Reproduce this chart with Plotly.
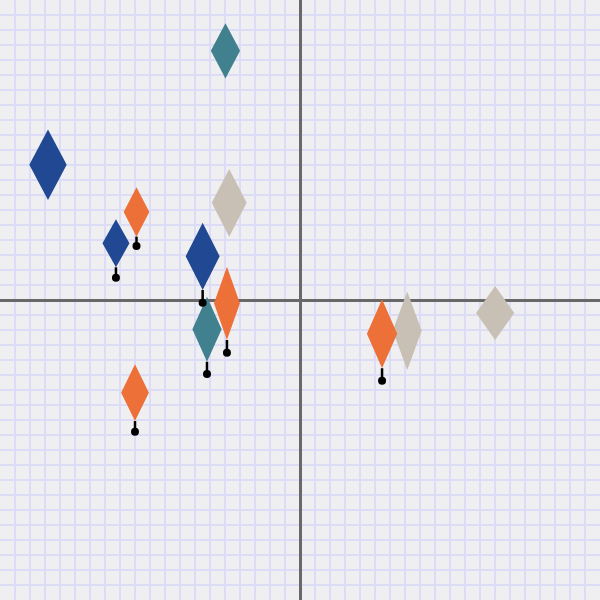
import plotly.graph_objects as go

# diamond centres, widths and heights in axis units
diamond_x = [-4.97, -16.8, -10.9, -4.72, -12.27, -6.49, -4.87, -6.2, -11.0, 5.47, 7.15, 13.01]
diamond_y = [16.61, 9.02, 5.87, 6.48, 3.78, 2.91, -0.22, -1.95, -6.18, -2.25, -2.05, -0.87]
diamond_w = [1.95, 2.49, 1.71, 2.33, 1.8, 2.27, 1.73, 1.95, 1.85, 2.02, 1.93, 2.55]
diamond_h = [3.67, 4.71, 3.29, 4.51, 3.2, 4.49, 4.89, 4.33, 3.78, 4.6, 5.22, 3.6]
group = ['teal', 'blue', 'orange', 'beige', 'blue', 'blue', 'orange', 'teal',
         'orange', 'orange', 'beige', 'beige']
# anchor dot below some diamonds (None = no dot)
dot_y = [None, None, 3.6, None, 1.49, -0.18, -3.51, -4.93, -8.78, -5.38, None, None]

colors = {'beige': '#C8C0B4', 'blue': '#204893', 'teal': '#40808F', 'orange': '#EC7038'}

fig = go.Figure()

for g in ['beige', 'blue', 'teal', 'orange']:
    xs, ys = [], []
    for i in range(len(diamond_x)):
        if group[i] != g:
            continue
        cx, cy = diamond_x[i], diamond_y[i]
        hw, hh = diamond_w[i] / 2, diamond_h[i] / 2
        xs += [cx, cx + hw, cx, cx - hw, cx, None]
        ys += [cy + hh, cy, cy - hh, cy, cy + hh, None]
    fig.add_trace(go.Scatter(x=xs, y=ys, mode='lines', fill='toself',
                             fillcolor=colors[g], line=dict(width=0, color=colors[g]),
                             hoverinfo='skip', name=g))

# stems and dots
sx, sy, stem = [], [], []
for i in range(len(diamond_x)):
    if dot_y[i] is None:
        continue
    sx.append(diamond_x[i])
    sy.append(dot_y[i])
    stem.append(diamond_y[i] - diamond_h[i] / 2 - dot_y[i])

fig.add_trace(go.Scatter(x=sx, y=sy, mode='markers',
                         marker=dict(size=8, color='black'),
                         error_y=dict(type='data', symmetric=False, array=stem,
                                      arrayminus=[0] * len(stem), width=0,
                                      thickness=2.5, color='black'),
                         name='anchor'))

axis = dict(range=[-20, 20], dtick=1, showticklabels=False, ticks='',
            showgrid=True, gridcolor='#DCDCF6', gridwidth=1.5,
            zeroline=True, zerolinecolor='#686868', zerolinewidth=3,
            showline=False, fixedrange=True)

fig.update_layout(width=600, height=600, margin=dict(l=0, r=0, t=0, b=0),
                  showlegend=False, plot_bgcolor='#EFEFF1', paper_bgcolor='#EFEFF1',
                  xaxis=axis, yaxis=axis)

# page margin off so the plot sits at the window corner
fig.write_html("out.html", config={'displayModeBar': False},
               post_script="document.body.style.margin='0';document.body.style.overflow='hidden';")
